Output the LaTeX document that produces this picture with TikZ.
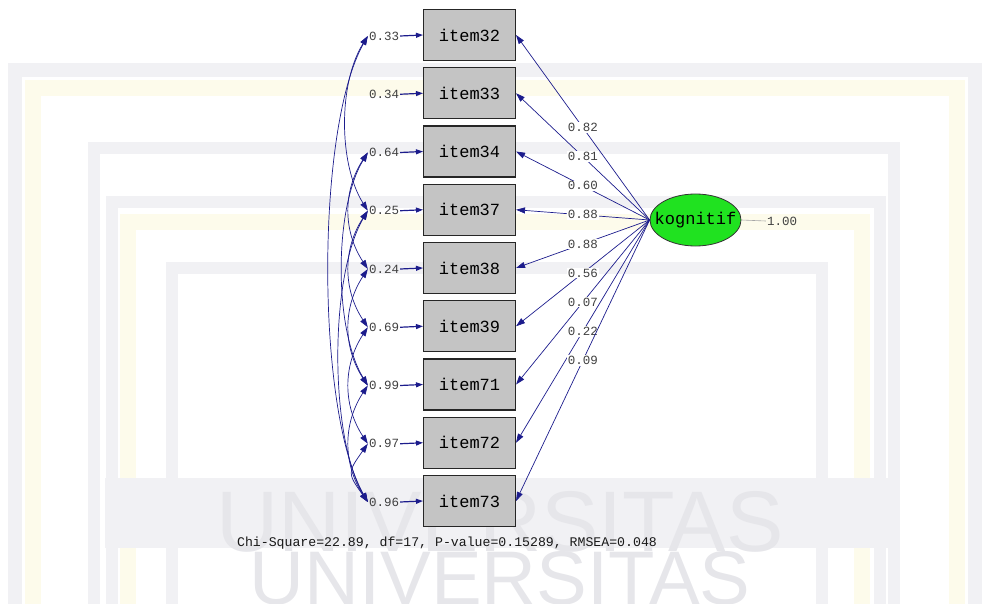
\documentclass[tikz,border=0pt]{standalone}
\usepackage{fontspec}
\setmainfont{Liberation Mono}
\newfontfamily\wmfont{Liberation Sans}
\usetikzlibrary{arrows.meta,shapes.geometric}
\definecolor{pathblue}{RGB}{28,28,140}
\definecolor{boxgray}{RGB}{196,196,196}
\definecolor{latgreen}{RGB}{32,226,32}
\definecolor{wmgray}{RGB}{241,241,244}
\definecolor{wmyellow}{RGB}{253,251,235}
\definecolor{wmletter}{RGB}{230,230,234}

\begin{document}
\begin{tikzpicture}[x=1pt, y=-1pt,
  obs/.style={draw=black!85, fill=boxgray, line width=1.1pt, minimum width=92pt, minimum height=51pt, inner sep=0pt, font=\fontsize{17}{17}\selectfont},
  lat/.style={ellipse, draw=black!80, fill=latgreen, line width=0.8pt, minimum width=91pt, minimum height=52pt, inner xsep=-10pt, inner ysep=0pt, font=\fontsize{17}{17}\selectfont},
  num/.style={font=\fontsize{12.5}{12.5}\selectfont, text=black!75, inner sep=1pt},
  arr/.style={-{Triangle[length=9pt, width=6pt]}, pathblue, line width=0.7pt},
  earr/.style={-{Triangle[length=7pt, width=5pt]}, pathblue, line width=1.2pt},
  cov/.style={{Triangle[length=9pt, width=6pt]}-{Triangle[length=9pt, width=6pt]}, pathblue, line width=0.7pt}
]
\useasboundingbox (0,0) rectangle (982,604);
\clip (0,0) rectangle (982,604);
% faint watermark behind the model
\draw[wmgray, line width=14pt] (15,70) rectangle (975,640);
\draw[wmyellow, line width=16pt] (33,88) rectangle (957,640);
\draw[wmgray, line width=12pt] (94,148) rectangle (894,640);
\draw[wmgray, line width=12pt] (112,202) rectangle (880,640);
\draw[wmyellow, line width=16pt] (128,222) rectangle (862,640);
\draw[wmgray, line width=12pt] (172,268) rectangle (822,640);
\fill[wmgray] (105,478) rectangle (900,548);
\node[font=\wmfont\fontsize{86}{86}\selectfont, text=wmletter] (wm1) at (500,522) {UNIVERSITAS};
\node[font=\wmfont\fontsize{76}{76}\selectfont, text=wmletter] (wm2) at (500,578) {UNIVERSITAS};

% latent factor
\node[lat] (kog) at (695.5,220) {kognitif};
\node[num] (var) at (782,221) {1.00};
\draw[black!35, line width=0.6pt] (kog.east) -- (var.west);

% indicators, error terms and loadings
\foreach \n/\ev/\lv [count=\k from 0] in {32/0.33/0.82, 33/0.34/0.81, 34/0.64/0.60, 37/0.25/0.88, 38/0.24/0.88, 39/0.69/0.56, 71/0.99/0.07, 72/0.97/0.22, 73/0.96/0.09}{
  \node[obs] (i\n) at (469.5, 35+58.25*\k) {item\n};
  \node[num] (e\n) at (384, 36+58.25*\k) {\ev};
  \draw[earr] (e\n.east) -- (i\n.west);
  \draw[arr] (kog.west) -- node[num, fill=white, pos=0.5] (l\n) {\lv} (i\n.east);
}

% correlated errors
\foreach \a/\b/\d in {32/37/3, 32/73/8, 34/38/2, 34/71/4, 37/39/2, 37/73/5, 38/71/2, 39/72/2, 71/73/2, 72/73/1}{
  \pgfmathsetmacro\cx{16+4.5*\d}
  \pgfmathsetmacro\cy{20+9*\d}
  \draw[cov] (e\a.west) .. controls +(-\cx,\cy) and +(-\cx,-\cy) .. (e\b.west);
}

\node[font=\fontsize{13.2}{13.2}\selectfont, text=black!90] (fit) at (447,543) {Chi-Square=22.89, df=17, P-value=0.15289, RMSEA=0.048};
\end{tikzpicture}
\end{document}
